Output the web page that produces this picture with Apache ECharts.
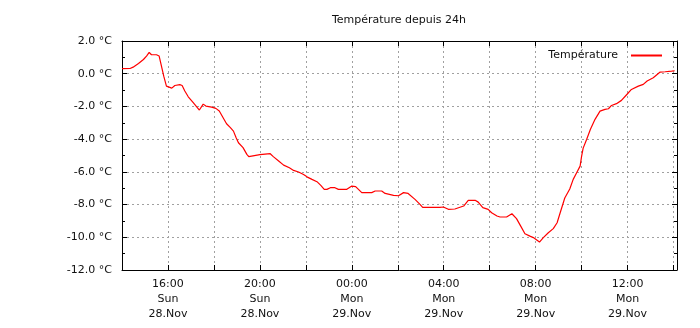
<!DOCTYPE html>
<html>
<head>
<meta charset="utf-8">
<script src="https://cdn.jsdelivr.net/npm/echarts@6/dist/echarts.min.js"></script>
<style>
  html, body { margin: 0; padding: 0; background: #fff; }
  #chart { width: 700px; height: 328px; }
</style>
</head>
<body>
<div id="chart"></div>
<script>
// Temperature readings over the last 24 hours (Sun 28.Nov 14:00 -> Mon 29.Nov 14:05)
const readingTimes = [
  '14:00','14:21','14:29','14:43','14:56','15:04','15:11','15:17','15:30','15:37',
  '15:43','15:49','15:56','16:01','16:10','16:18','16:31','16:37','16:44','16:53',
  '17:06','17:22','17:32','17:39','17:54','18:05','18:14','18:24','18:33','18:43',
  '18:51','18:58','19:04','19:16','19:26','19:31','19:35','20:00','20:27','20:35',
  '20:49','21:02','21:17','21:28','21:41','21:54','22:04','22:16','22:29','22:39',
  '22:48','22:55','23:04','23:16','23:25','23:47','00:00','00:10','00:26','00:52',
  '01:01','01:18','01:27','01:49','02:02','02:15','02:27','02:45','02:58','03:05',
  '03:50','03:59','04:12','04:29','04:52','05:04','05:22','05:30','05:42','05:56',
  '06:05','06:19','06:27','06:44','06:58','07:10','07:21','07:32','07:45','07:54',
  '08:01','08:10','08:20','08:33','08:46','08:56','09:04','09:16','09:29','09:38',
  '09:47','09:56','10:00','10:04','10:13','10:23','10:35','10:48','11:01','11:10',
  '11:18','11:31','11:44','11:58','12:10','12:28','12:41','12:51','13:07','13:25',
  '13:38','13:55','14:03'
];
const temperatures = [
  0.31, 0.32, 0.40, 0.63, 0.87, 1.08, 1.30, 1.16, 1.16, 1.08,
  0.46, -0.15, -0.76, -0.88, -0.88, -0.72, -0.67, -0.72, -1.06, -1.41,
  -1.77, -2.22, -1.86, -1.98, -2.04, -2.12, -2.28, -2.69, -3.06, -3.30,
  -3.51, -3.91, -4.22, -4.52, -4.93, -5.07, -4.95, -4.95, -4.89, -5.07,
  -5.34, -5.59, -5.75, -5.91, -6.01, -6.16, -6.32, -6.46, -6.60, -6.83,
  -7.07, -7.07, -6.97, -6.97, -7.07, -7.07, -6.87, -6.90, -7.27, -7.27,
  -7.17, -7.17, -7.32, -7.44, -7.46, -7.27, -7.32, -7.68, -7.99, -8.17,
  -8.17, -8.15, -8.29, -8.27, -8.09, -7.74, -7.74, -7.85, -8.19, -8.29,
  -8.50, -8.70, -8.76, -8.76, -8.56, -8.86, -9.32, -9.78, -9.93, -10.02,
  -10.13, -10.29, -10.02, -9.72, -9.47, -9.11, -8.50, -7.60, -7.05, -6.46,
  -6.05, -5.65, -5.04, -4.55, -4.02, -3.40, -2.79, -2.29, -2.18, -2.14,
  -1.94, -1.83, -1.63, -1.27, -0.96, -0.76, -0.65, -0.45, -0.25, 0.10,
  0.12, 0.16, 0.18
];

// Labelled x ticks (hours counted from Sun 28.Nov 00:00)
const tickHours = [16, 20, 24, 28, 32, 36];
const tickClock = ['16:00', '20:00', '00:00', '04:00', '08:00', '12:00'];
const tickDays  = ['Sun', 'Sun', 'Mon', 'Mon', 'Mon', 'Mon'];
const tickDates = ['28.Nov', '28.Nov', '29.Nov', '29.Nov', '29.Nov', '29.Nov'];

const seriesName = 'Température';
const chartTitle = 'Température depuis 24h';

const X_MIN = 14, X_MAX = 38.15, X_STEP = 2;
const Y_MIN = -12, Y_MAX = 2, Y_STEP = 2;

// Turn clock strings into running hours, rolling over at midnight
function toHours(list) {
  const out = [];
  let dayOffset = 0, prev = -1;
  list.forEach(s => {
    const [h, m] = s.split(':').map(Number);
    let v = h + m / 60;
    if (v + dayOffset < prev) dayOffset += 24;
    v += dayOffset;
    prev = v;
    out.push(v);
  });
  return out;
}
const hours = toHours(readingTimes);
const points = hours.map((h, i) => [h, temperatures[i]]);

const FONT = 'DejaVu Sans';
const TEXT = '#111';
const gridDash = { color: '#a0a0a0', type: [2, 3], width: 1 };
const frame = { show: true, onZero: false, lineStyle: { color: '#000', width: 1 } };
const innerTick = { show: true, inside: true, length: 5, lineStyle: { color: '#000' } };
const innerMinor = { show: true, splitNumber: 2, length: 3, lineStyle: { color: '#000' } };

const chart = echarts.init(document.getElementById('chart'), null, { renderer: 'canvas' });
chart.setOption({
  animation: false,
  backgroundColor: '#fff',
  textStyle: { fontFamily: FONT },
  grid: { left: 122, right: 23, top: 41, bottom: 58, containLabel: false },
  graphic: [{
    type: 'text', x: 399, y: 20,
    style: { text: chartTitle, align: 'center', verticalAlign: 'middle',
             font: '11px "DejaVu Sans"', fill: TEXT }
  }],
  legend: {
    show: true, right: 33, top: 45, align: 'right',
    itemWidth: 31, itemHeight: 2, icon: 'rect',
    textStyle: { fontSize: 11, color: TEXT, fontFamily: FONT, padding: [0, 8, 0, 0] },
    data: [{ name: seriesName, itemStyle: { color: '#ff0000' } }]
  },
  xAxis: [{
    type: 'value', min: X_MIN, max: X_MAX, interval: X_STEP,
    axisLine: frame,
    axisTick: innerTick,
    splitLine: { show: true, lineStyle: gridDash },
    axisLabel: {
      showMaxLabel: false, showMinLabel: false,
      color: TEXT, fontSize: 11, fontFamily: FONT, lineHeight: 15, margin: 7,
      formatter: v => {
        const i = tickHours.findIndex(h => Math.abs(h - v) < 1e-6);
        return i < 0 ? '' : tickClock[i] + '\n' + tickDays[i] + '\n' + tickDates[i];
      }
    }
  }, {
    type: 'value', position: 'top', min: X_MIN, max: X_MAX, interval: X_STEP,
    axisLine: frame,
    axisTick: innerTick,
    splitLine: { show: false }, axisLabel: { show: false }
  }],
  yAxis: [{
    type: 'value', min: Y_MIN, max: Y_MAX, interval: Y_STEP,
    axisLine: frame,
    axisTick: innerTick,
    minorTick: innerMinor,
    splitLine: { show: true, lineStyle: gridDash },
    axisLabel: {
      color: TEXT, fontSize: 11, fontFamily: FONT, margin: 10,
      formatter: v => v.toFixed(1) + ' °C'
    }
  }, {
    type: 'value', position: 'right', min: Y_MIN, max: Y_MAX, interval: Y_STEP,
    axisLine: frame,
    axisTick: innerTick,
    minorTick: innerMinor,
    splitLine: { show: false }, axisLabel: { show: false }
  }],
  series: [{
    name: seriesName, type: 'line', xAxisIndex: 0, yAxisIndex: 0,
    data: points, symbol: 'none', smooth: false,
    lineStyle: { color: '#ff0000', width: 1.2 },
    itemStyle: { color: '#ff0000' }
  }]
});
</script>
</body>
</html>
